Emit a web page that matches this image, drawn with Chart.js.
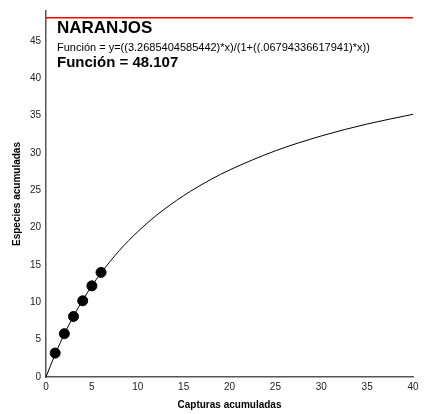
<!DOCTYPE html>
<html>
<head>
<meta charset="utf-8">
<script src="https://cdn.jsdelivr.net/npm/chart.js@4.4.1/dist/chart.umd.min.js"></script>
<style>
  html, body { margin: 0; padding: 0; background: #fff; }
  #wrap { width: 433px; height: 414px; position: relative; }
</style>
</head>
<body>
<div id="wrap"><canvas id="curva"></canvas></div>
<script>
// Capturas observadas y especies acumuladas
const capturas = [1, 2, 3, 4, 5, 6];
const especies = [3.2, 5.8, 8.1, 10.2, 12.2, 14.0];

// Curva ajustada (muestreada)
const curvaX = [0, 1, 2, 3, 4, 5, 6, 8, 10, 12, 15, 18, 20, 25, 30, 35, 40];
const curvaY = [0, 3.06, 5.76, 8.15, 10.28, 12.2, 13.93, 16.94, 19.46, 21.61, 24.28, 26.47, 27.71, 30.28, 32.27, 33.87, 35.17];

// Asintota
const asintota = 48.107;
const xTicks = [0, 5, 10, 15, 20, 25, 30, 35, 40];
const yTicks = [0, 5, 10, 15, 20, 25, 30, 35, 40, 45];

const titulo = 'NARANJOS';
const funcionTxt = 'Función = y=((3.2685404585442)*x)/(1+((.06794336617941)*x))';
const valorTxt = 'Función = ' + asintota.toFixed(3);

const FONT = '"Liberation Sans", Arial, sans-serif';

const textos = {
    id: 'textos',
    afterDraw(chart) {
        const ctx = chart.ctx;
        ctx.save();
        ctx.fillStyle = '#000';
        ctx.textAlign = 'left';
        ctx.textBaseline = 'alphabetic';
        ctx.font = 'bold 17px ' + FONT;
        ctx.fillText(titulo, 57, 33);
        ctx.font = '11px ' + FONT;
        ctx.fillText(funcionTxt, 57, 51);
        ctx.font = 'bold 15px ' + FONT;
        ctx.fillText(valorTxt, 57, 67);
        ctx.restore();
    }
};

const ctx = document.getElementById('curva').getContext('2d');
new Chart(ctx, {
    type: 'scatter',
    data: {
        datasets: [
            {
                data: curvaX.map((x, i) => ({ x: x, y: curvaY[i] })),
                showLine: true,
                borderColor: '#000',
                borderWidth: 1,
                pointRadius: 0,
                cubicInterpolationMode: 'monotone',
                order: 2
            },
            {
                data: [{ x: 0, y: asintota }, { x: 40, y: asintota }],
                showLine: true,
                borderColor: '#ff0000',
                borderWidth: 1.5,
                pointRadius: 0,
                order: 3
            },
            {
                data: capturas.map((x, i) => ({ x: x, y: especies[i] })),
                showLine: false,
                backgroundColor: '#000',
                borderColor: '#000',
                pointRadius: 5,
                order: 1
            }
        ]
    },
    options: {
        responsive: true,
        maintainAspectRatio: false,
        animation: false,
        layout: { padding: { top: 10, right: 20, left: 0, bottom: 0 } },
        plugins: {
            legend: { display: false },
            tooltip: { enabled: false }
        },
        scales: {
            x: {
                type: 'linear',
                min: 0,
                max: 40,
                afterBuildTicks: s => { s.ticks = xTicks.map(v => ({ value: v })); },
                afterFit: s => { s.height = 37; },
                grid: { display: false, drawTicks: false },
                border: { display: true, color: '#555', width: 1.5 },
                ticks: { color: '#222', font: { family: FONT, size: 10 }, padding: 4, maxRotation: 0 },
                title: {
                    display: true,
                    text: 'Capturas acumuladas',
                    color: '#000',
                    font: { family: FONT, size: 10, weight: 'bold' },
                    padding: { top: 4, bottom: 3 }
                }
            },
            y: {
                type: 'linear',
                min: 0,
                max: 49,
                afterBuildTicks: s => { s.ticks = yTicks.map(v => ({ value: v })); },
                afterFit: s => { s.width = 46; },
                grid: { display: false, drawTicks: false },
                border: { display: true, color: '#555', width: 1.5 },
                ticks: { color: '#222', font: { family: FONT, size: 10 }, padding: 5 },
                title: {
                    display: true,
                    text: 'Especies acumuladas',
                    color: '#000',
                    font: { family: FONT, size: 10, weight: 'bold' },
                    padding: { top: 11, bottom: 0 }
                }
            }
        }
    },
    plugins: [textos]
});
</script>
</body>
</html>
